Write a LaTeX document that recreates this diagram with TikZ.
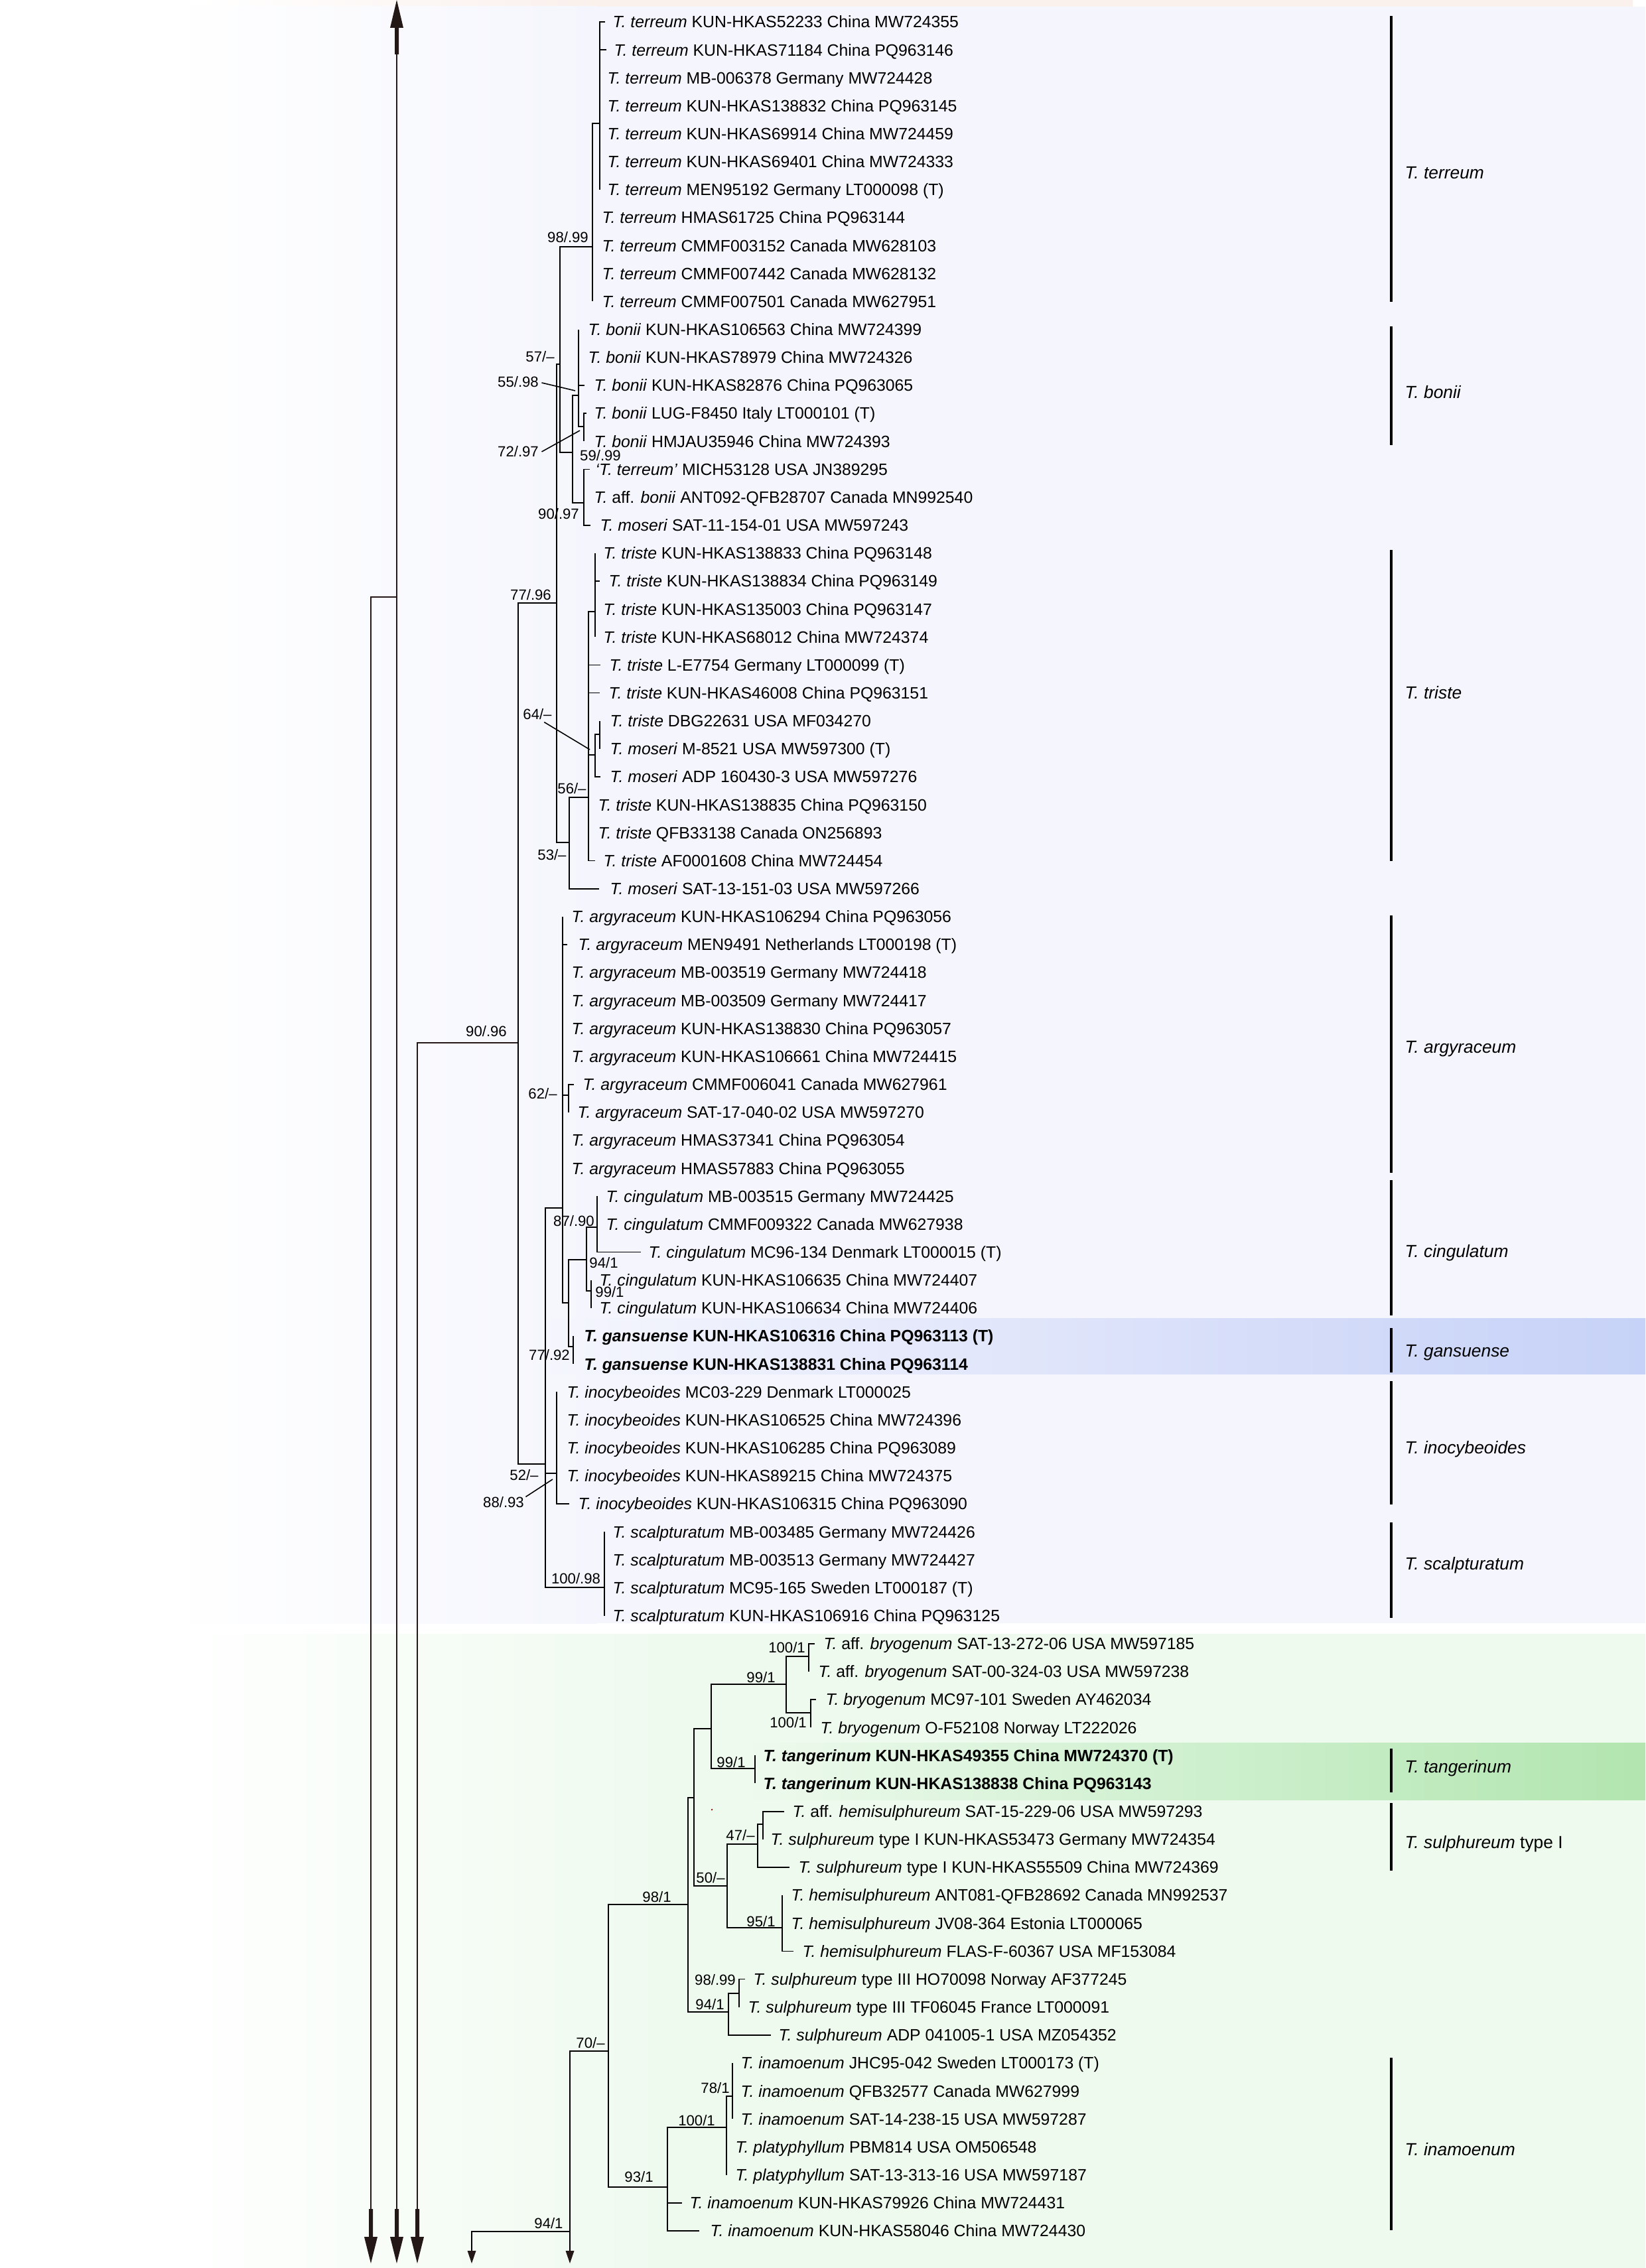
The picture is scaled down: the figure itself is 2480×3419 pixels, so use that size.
\documentclass[tikz,border=0pt]{standalone}
\usepackage{fontspec}
\setmainfont{Liberation Sans}
\definecolor{bluebg}{HTML}{F5F6FD}
\definecolor{greenbg}{HTML}{EFFAEF}
\definecolor{pinkbg}{HTML}{FAF0EC}
\definecolor{gbandA}{HTML}{D6DDF9}
\definecolor{gbandB}{HTML}{C6D2F7}
\definecolor{tbandA}{HTML}{CAEECA}
\definecolor{tbandB}{HTML}{B2E5AF}
\definecolor{arrc}{HTML}{231815}
\tikzset{
  br/.style={line width=0.5pt},
  armline/.style={line width=0.6pt, draw=arrc},
  lead/.style={line width=0.45pt},
  leaf/.style={font=\fontsize{7.05}{8.5}\selectfont, inner sep=0pt, anchor=west, text height=5.05pt, text depth=0pt},
  sup/.style={font=\fontsize{6.3}{7.5}\selectfont, inner sep=0pt, anchor=center, text height=4.5pt, text depth=0pt},
  clade/.style={font=\fontsize{7.5}{9}\selectfont, inner sep=0pt, anchor=west, text height=5.4pt, text depth=0pt},
  cladebar/.style={line width=0.9pt},
  arrfill/.style={fill=arrc}
}
% leaf: #1 index, #2 parent coordinate, #3 tip x, #4 text x, #5 text
\newcommand\lf[5]{%
  \pgfmathsetmacro\yy{33+(#1-1)*42.15}%
  \coordinate (t#1) at (#3,\yy);%
  \node[leaf] (l#1) at (#4,\yy) {#5};%
  \draw[br] (#2) |- (t#1);%
}
\newcommand\bigdownhead[1]{%
  \fill[arrfill] (#1) ++(0,82) -- ++(10,-40) -- ++(-7,0) -- ++(0,-42) -- ++(-6,0) -- ++(0,42) -- ++(-7,0) -- cycle;%
}
\newcommand\smalldownhead[1]{%
  \fill[arrfill] (#1) ++(0,19) -- ++(6.5,-19) -- ++(-13,0) -- cycle;%
}
\begin{document}
\begin{tikzpicture}[x=0.01cm,y=-0.01cm]
\useasboundingbox (0,0) rectangle (2480,3419);
\fill[white] (0,0) rectangle (2480,3419);
% backgrounds
\shade[left color=white,right color=pinkbg] (300,0) rectangle (900,10);
\fill[pinkbg] (900,0) rectangle (2461,10);
\shade[left color=white,right color=bluebg] (250,10) rectangle (900,2447);
\fill[bluebg] (900,10) rectangle (2480,2447);
\shade[left color=white,right color=greenbg] (250,2463) rectangle (1000,3419);
\fill[greenbg] (1000,2463) rectangle (2480,3419);
\shade[left color=bluebg,right color=gbandA] (830,1987) rectangle (1900,2071);
\shade[left color=gbandA,right color=gbandB] (1900,1987) rectangle (2480,2071);
\shade[left color=greenbg,right color=tbandA] (1100,2627) rectangle (1900,2713);
\shade[left color=tbandA,right color=tbandB] (1900,2627) rectangle (2480,2713);

% ---------- off-page connections (arrows) ----------
\coordinate (a2top) at (598,82);
\coordinate (a2bot) at (598,3330);
\coordinate (j1) at (598,900);
\coordinate (a1top) at (559,900);
\coordinate (a1bot) at (559,3330);
\coordinate (a3top) at (629,1572);
\coordinate (a3bot) at (629,3330);
\coordinate (W) at (781,1572);
\coordinate (N94) at (859,3364);
\coordinate (a4top) at (711,3364);
\coordinate (a4bot) at (711,3393);
\coordinate (a5bot) at (859,3393);
\draw[armline] (a2top) -- (a2bot);
\draw[armline] (j1) -- (a1top) -- (a1bot);
\draw[armline] (W) -- (a3top) -- (a3bot);
\draw[br] (N94) -- (a4top) -- (a4bot);
\draw[br] (N94) -- (a5bot);
% top arrow head
\fill[arrfill] (598,0) -- (608,42) -- (601,42) -- (601,82) -- (595,82) -- (595,42) -- (588,42) -- cycle;
\bigdownhead{a1bot}
\bigdownhead{a2bot}
\bigdownhead{a3bot}
\smalldownhead{a4bot}
\smalldownhead{a5bot}

% ---------- internal nodes, upper clade ----------
\coordinate (Q) at (839,909);
\coordinate (P57) at (844,549);
\coordinate (B) at (893,372);
\coordinate (A) at (904,186);
\coordinate (R) at (863,682);
\coordinate (S) at (872,596);
\coordinate (V) at (880,643);
\coordinate (U) at (880,758);
\coordinate (T53) at (858,1270);
\coordinate (T56) at (887,1202);
\coordinate (N20) at (897,922);
\coordinate (N64) at (897,1138);
\coordinate (N26) at (904,1107);
\coordinate (Y52) at (822,2207);
\coordinate (AR) at (848,1821);
\coordinate (N62) at (857,1651);
\coordinate (Z) at (857,1964);
\coordinate (CI) at (884,1899);
\coordinate (CI1) at (900,1850);
\coordinate (CI2) at (891,1946);
\coordinate (GA) at (864,2030);
\coordinate (IN) at (839,2221);
\coordinate (SC) at (911,2393);
\foreach \p/\c in {W/Q,W/Y52,Q/P57,Q/T53,P57/B,P57/R,B/A,R/S,R/U,S/V,T53/T56,T56/N20,T56/N64,N64/N26,Y52/AR,Y52/IN,Y52/SC,AR/N62,AR/Z,Z/CI,Z/GA,CI/CI1,CI/CI2}
  \draw[br] (\p) |- (\c);

% ---------- internal nodes, lower clade ----------
\coordinate (G70) at (917,3092);
\coordinate (G98) at (1037,2871);
\coordinate (G93) at (1006,3297);
\coordinate (N1046) at (1046,2710);
\coordinate (N94b) at (1098,3033);
\coordinate (N1072) at (1072,2606);
\coordinate (N50) at (1096,2843);
\coordinate (N99a) at (1185,2539);
\coordinate (TA) at (1138,2666);
\coordinate (BR1) at (1219,2497);
\coordinate (BR2) at (1222,2582);
\coordinate (N47) at (1142,2780);
\coordinate (N1150) at (1150,2750);
\coordinate (N95) at (1179,2906);
\coordinate (N9899) at (1114,3005);
\coordinate (N100) at (1095,3207);
\coordinate (N78) at (1104,3160);
\foreach \p/\c in {N94/G70,G70/G98,G70/G93,G98/N1046,G98/N94b,N1046/N1072,N1046/N50,N1072/N99a,N1072/TA,N99a/BR1,N99a/BR2,N50/N47,N50/N95,N47/N1150,N94b/N9899,G93/N100,N100/N78}
  \draw[br] (\p) |- (\c);

% ---------- leaves ----------
\lf{1}{A}{912}{923}{\textit{T. terreum} KUN-HKAS52233 China MW724355}
\lf{2}{A}{914}{925}{\textit{T. terreum} KUN-HKAS71184 China PQ963146}
\lf{3}{A}{904}{915}{\textit{T. terreum} MB-006378 Germany MW724428}
\lf{4}{A}{904}{915}{\textit{T. terreum} KUN-HKAS138832 China PQ963145}
\lf{5}{A}{904}{915}{\textit{T. terreum} KUN-HKAS69914 China MW724459}
\lf{6}{A}{904}{915}{\textit{T. terreum} KUN-HKAS69401 China MW724333}
\lf{7}{A}{904}{915}{\textit{T. terreum} MEN95192 Germany LT000098 (T)}
\lf{8}{B}{893}{907}{\textit{T. terreum} HMAS61725 China PQ963144}
\lf{9}{B}{893}{907}{\textit{T. terreum} CMMF003152 Canada MW628103}
\lf{10}{B}{893}{907}{\textit{T. terreum} CMMF007442 Canada MW628132}
\lf{11}{B}{893}{907}{\textit{T. terreum} CMMF007501 Canada MW627951}
\lf{12}{S}{872}{886}{\textit{T. bonii} KUN-HKAS106563 China MW724399}
\lf{13}{S}{872}{886}{\textit{T. bonii} KUN-HKAS78979 China MW724326}
\lf{14}{S}{881}{895}{\textit{T. bonii} KUN-HKAS82876 China PQ963065}
\lf{15}{V}{884}{895}{\textit{T. bonii} LUG-F8450 Italy LT000101 (T)}
\lf{16}{V}{880}{895}{\textit{T. bonii} HMJAU35946 China MW724393}
\lf{17}{U}{889}{897}{\textit{‘T. terreum’} MICH53128 USA JN389295}
\lf{18}{U}{880}{895}{\textit{T.} aff. \textit{bonii} ANT092-QFB28707 Canada MN992540}
\lf{19}{U}{890}{904}{\textit{T. moseri} SAT-11-154-01 USA MW597243}
\lf{20}{N20}{897}{909}{\textit{T. triste} KUN-HKAS138833 China PQ963148}
\lf{21}{N20}{904}{917}{\textit{T. triste} KUN-HKAS138834 China PQ963149}
\lf{22}{N20}{897}{909}{\textit{T. triste} KUN-HKAS135003 China PQ963147}
\lf{23}{N20}{897}{909}{\textit{T. triste} KUN-HKAS68012 China MW724374}
\lf{24}{T56}{905}{918}{\textit{T. triste} L-E7754 Germany LT000099 (T)}
\lf{25}{T56}{904}{917}{\textit{T. triste} KUN-HKAS46008 China PQ963151}
\lf{26}{N26}{904}{919}{\textit{T. triste} DBG22631 USA MF034270}
\lf{27}{N26}{904}{919}{\textit{T. moseri} M-8521 USA MW597300 (T)}
\lf{28}{N64}{905}{919}{\textit{T. moseri} ADP 160430-3 USA MW597276}
\lf{29}{T56}{887}{901}{\textit{T. triste} KUN-HKAS138835 China PQ963150}
\lf{30}{T56}{887}{901}{\textit{T. triste} QFB33138 Canada ON256893}
\lf{31}{T56}{897}{909}{\textit{T. triste} AF0001608 China MW724454}
\lf{32}{T53}{903}{919}{\textit{T. moseri} SAT-13-151-03 USA MW597266}
\lf{33}{AR}{848}{861}{\textit{T. argyraceum} KUN-HKAS106294 China PQ963056}
\lf{34}{AR}{855}{871}{\textit{T. argyraceum} MEN9491 Netherlands LT000198 (T)}
\lf{35}{AR}{848}{861}{\textit{T. argyraceum} MB-003519 Germany MW724418}
\lf{36}{AR}{848}{861}{\textit{T. argyraceum} MB-003509 Germany MW724417}
\lf{37}{AR}{848}{861}{\textit{T. argyraceum} KUN-HKAS138830 China PQ963057}
\lf{38}{AR}{848}{861}{\textit{T. argyraceum} KUN-HKAS106661 China MW724415}
\lf{39}{N62}{865}{878}{\textit{T. argyraceum} CMMF006041 Canada MW627961}
\lf{40}{N62}{857}{870}{\textit{T. argyraceum} SAT-17-040-02 USA MW597270}
\lf{41}{AR}{848}{861}{\textit{T. argyraceum} HMAS37341 China PQ963054}
\lf{42}{AR}{848}{861}{\textit{T. argyraceum} HMAS57883 China PQ963055}
\lf{43}{CI1}{900}{913}{\textit{T. cingulatum} MB-003515 Germany MW724425}
\lf{44}{CI1}{900}{913}{\textit{T. cingulatum} CMMF009322 Canada MW627938}
\lf{45}{CI1}{966}{977}{\textit{T. cingulatum} MC96-134 Denmark LT000015 (T)}
\lf{46}{CI2}{891}{903}{\textit{T. cingulatum} KUN-HKAS106635 China MW724407}
\lf{47}{CI2}{891}{903}{\textit{T. cingulatum} KUN-HKAS106634 China MW724406}
\lf{48}{GA}{864}{880}{\textbf{\textit{T. gansuense} KUN-HKAS106316 China PQ963113 (T)}}
\lf{49}{GA}{864}{880}{\textbf{\textit{T. gansuense} KUN-HKAS138831 China PQ963114}}
\lf{50}{IN}{839}{854}{\textit{T. inocybeoides} MC03-229 Denmark LT000025}
\lf{51}{IN}{839}{854}{\textit{T. inocybeoides} KUN-HKAS106525 China MW724396}
\lf{52}{IN}{839}{854}{\textit{T. inocybeoides} KUN-HKAS106285 China PQ963089}
\lf{53}{IN}{839}{854}{\textit{T. inocybeoides} KUN-HKAS89215 China MW724375}
\lf{54}{IN}{858}{871}{\textit{T. inocybeoides} KUN-HKAS106315 China PQ963090}
\lf{55}{SC}{911}{923}{\textit{T. scalpturatum} MB-003485 Germany MW724426}
\lf{56}{SC}{911}{923}{\textit{T. scalpturatum} MB-003513 Germany MW724427}
\lf{57}{SC}{911}{923}{\textit{T. scalpturatum} MC95-165 Sweden LT000187 (T)}
\lf{58}{SC}{911}{923}{\textit{T. scalpturatum} KUN-HKAS106916 China PQ963125}
\lf{59}{BR1}{1228}{1241}{\textit{T.} aff. \textit{bryogenum} SAT-13-272-06 USA MW597185}
\lf{60}{BR1}{1219}{1233}{\textit{T.} aff. \textit{bryogenum} SAT-00-324-03 USA MW597238}
\lf{61}{BR2}{1230}{1244}{\textit{T. bryogenum} MC97-101 Sweden AY462034}
\lf{62}{BR2}{1222}{1236}{\textit{T. bryogenum} O-F52108 Norway LT222026}
\lf{63}{TA}{1138}{1150}{\textbf{\textit{T. tangerinum} KUN-HKAS49355 China MW724370 (T)}}
\lf{64}{TA}{1138}{1150}{\textbf{\textit{T. tangerinum} KUN-HKAS138838 China PQ963143}}
\lf{65}{N1150}{1182}{1194}{\textit{T.} aff. \textit{hemisulphureum} SAT-15-229-06 USA MW597293}
\lf{66}{N1150}{1150}{1161}{\textit{T. sulphureum} type I KUN-HKAS53473 Germany MW724354}
\lf{67}{N47}{1190}{1203}{\textit{T. sulphureum} type I KUN-HKAS55509 China MW724369}
\lf{68}{N95}{1179}{1192}{\textit{T. hemisulphureum} ANT081-QFB28692 Canada MN992537}
\lf{69}{N95}{1179}{1192}{\textit{T. hemisulphureum} JV08-364 Estonia LT000065}
\lf{70}{N95}{1196}{1209}{\textit{T. hemisulphureum} FLAS-F-60367 USA MF153084}
\lf{71}{N9899}{1123}{1135}{\textit{T. sulphureum} type III HO70098 Norway AF377245}
\lf{72}{N9899}{1114}{1127}{\textit{T. sulphureum} type III TF06045 France LT000091}
\lf{73}{N94b}{1162}{1173}{\textit{T. sulphureum} ADP 041005-1 USA MZ054352}
\lf{74}{N78}{1104}{1116}{\textit{T. inamoenum} JHC95-042 Sweden LT000173 (T)}
\lf{75}{N78}{1104}{1116}{\textit{T. inamoenum} QFB32577 Canada MW627999}
\lf{76}{N78}{1104}{1116}{\textit{T. inamoenum} SAT-14-238-15 USA MW597287}
\lf{77}{N100}{1095}{1108}{\textit{T. platyphyllum} PBM814 USA OM506548}
\lf{78}{N100}{1095}{1108}{\textit{T. platyphyllum} SAT-13-313-16 USA MW597187}
\lf{79}{G93}{1028}{1039}{\textit{T. inamoenum} KUN-HKAS79926 China MW724431}
\lf{80}{G93}{1054}{1070}{\textit{T. inamoenum} KUN-HKAS58046 China MW724430}

% ---------- support values ----------
\node[sup] (s1) at (856,358) {98/.99};
\node[sup] (s2) at (814,538) {57/–};
\node[sup] (s3) at (781,576) {55/.98};
\node[sup] (s4) at (781,681) {72/.97};
\node[sup] (s5) at (905,687) {59/.99};
\node[sup] (s6) at (842,775) {90/.97};
\node[sup] (s7) at (800,897) {77/.96};
\node[sup] (s8) at (810,1077) {64/–};
\node[sup] (s9) at (862,1189) {56/–};
\node[sup] (s10) at (832,1289) {53/–};
\node[sup] (s11) at (733,1555) {90/.96};
\node[sup] (s12) at (818,1649) {62/–};
\node[sup] (s13) at (865,1841) {87/.90};
\node[sup] (s14) at (910,1904) {94/1};
\node[sup] (s15) at (919,1948) {99/1};
\node[sup] (s16) at (828,2043) {77/.92};
\node[sup] (s17) at (790,2224) {52/–};
\node[sup] (s18) at (759,2265) {88/.93};
\node[sup] (s19) at (868,2380) {100/.98};
\node[sup] (s20) at (1186,2484) {100/1};
\node[sup] (s21) at (1147,2529) {99/1};
\node[sup] (s22) at (1188,2597) {100/1};
\node[sup] (s23) at (1102,2657) {99/1};
\node[sup] (s24) at (1116,2767) {47/–};
\node[sup] (s25) at (1071,2831) {50/–};
\node[sup] (s26) at (990,2860) {98/1};
\node[sup] (s27) at (1147,2897) {95/1};
\node[sup] (s28) at (1078,2985) {98/.99};
\node[sup] (s29) at (1070,3022) {94/1};
\node[sup] (s30) at (890,3080) {70/–};
\node[sup] (s31) at (1078,3148) {78/1};
\node[sup] (s32) at (1050,3197) {100/1};
\node[sup] (s33) at (963,3282) {93/1};
\node[sup] (s34) at (827,3352) {94/1};
% leader lines
\coordinate (e3) at (867,589);
\coordinate (e4) at (874,649);
\coordinate (e8) at (889,1130);
\coordinate (e18) at (833,2230);
\draw[lead] (s3.east) ++(4,1) -- (e3);
\draw[lead] (s4.east) ++(4,0) -- (e4);
\draw[lead] (s8.south east) ++(-12,3) -- (e8);
\draw[lead] (s18.north east) ++(2,0) -- (e18);

% stray dot
\fill[red!55!black] (1073,2728) circle (1.3);

% ---------- clade bars and names ----------
\foreach \na/\ya/\yb/\yl/\txt in {
  cterreum/24/455/260/{\textit{T. terreum}},
  cbonii/492/671/591/{\textit{T. bonii}},
  ctriste/829/1298/1044/{\textit{T. triste}},
  cargy/1380/1768/1578/{\textit{T. argyraceum}},
  ccing/1779/1983/1886/{\textit{T. cingulatum}},
  cgans/2002/2069/2036/{\textit{T. gansuense}},
  cinoc/2082/2268/2182/{\textit{T. inocybeoides}},
  cscal/2295/2439/2357/{\textit{T. scalpturatum}},
  ctang/2636/2702/2663/{\textit{T. tangerinum}},
  csulph/2718/2820/2777/{\textit{T. sulphureum} type I},
  cinam/3102/3362/3240/{\textit{T. inamoenum}}}{
  \draw[cladebar] (2097,\ya) -- (2097,\yb);
  \node[clade] (\na) at (2117,\yl) {\txt};
}
\end{tikzpicture}
\end{document}
